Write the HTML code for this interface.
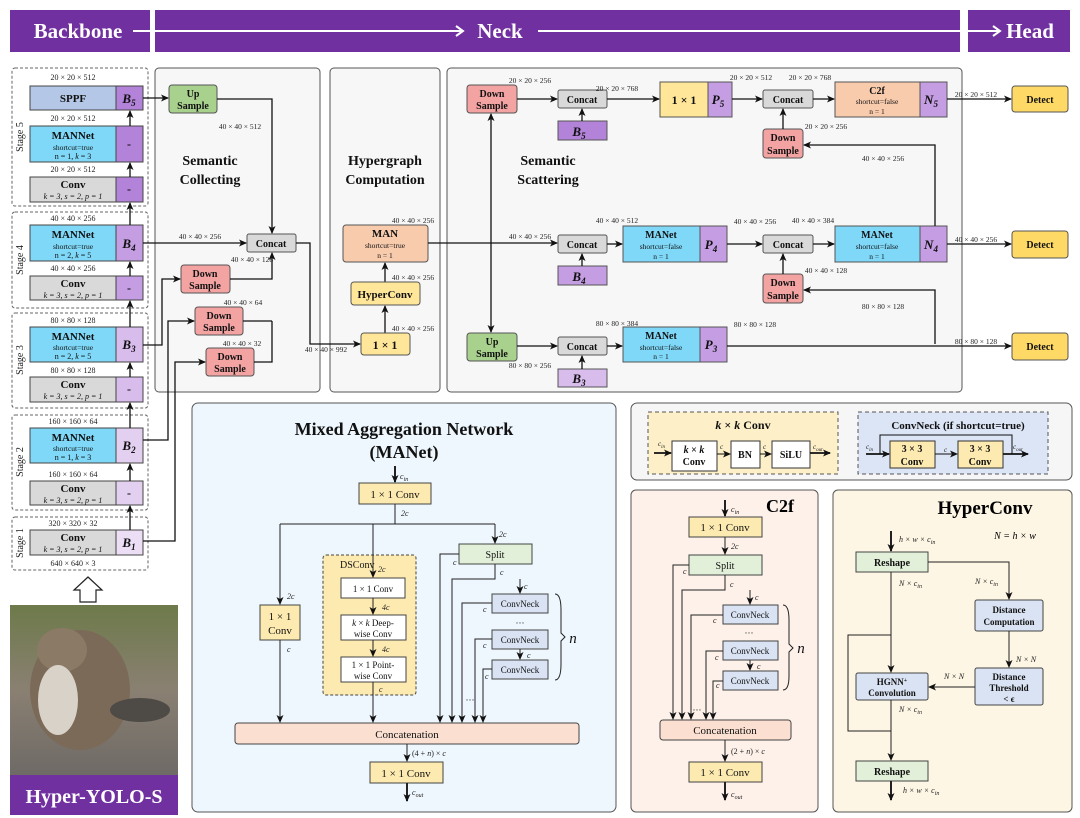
<!DOCTYPE html>
<html><head><meta charset="utf-8"><style>
html,body{margin:0;padding:0;background:#fff;}
svg{display:block;font-family:"Liberation Serif",serif;}
.b{font-weight:bold}
</style></head><body>
<svg width="1080" height="818" viewBox="0 0 1080 818" xmlns="http://www.w3.org/2000/svg">
<defs>
<marker id="a" markerWidth="8" markerHeight="8" refX="7" refY="4" orient="auto" markerUnits="userSpaceOnUse"><path d="M0,0.5 L8,4 L0,7.5 L2,4z" fill="#111"/></marker>
<marker id="w" markerWidth="10" markerHeight="12" refX="8" refY="6" orient="auto" markerUnits="userSpaceOnUse"><path d="M1,1 L8,6 L1,11" fill="none" stroke="#fff" stroke-width="2"/></marker>
</defs>
<!-- header -->
<rect x="10" y="10" width="140" height="42" fill="#7030a0"/>
<rect x="155" y="10" width="805" height="42" fill="#7030a0"/>
<rect x="968" y="10" width="102" height="42" fill="#7030a0"/>
<text x="78" y="38" fill="#fff" font-size="21" class="b" text-anchor="middle">Backbone</text>
<text x="500" y="38" fill="#fff" font-size="21" class="b" text-anchor="middle">Neck</text>
<text x="1030" y="38" fill="#fff" font-size="21" class="b" text-anchor="middle">Head</text>
<line x1="133" y1="31" x2="463" y2="31" stroke="#fff" stroke-width="2" marker-end="url(#w)"/>
<line x1="538" y1="31" x2="1000" y2="31" stroke="#fff" stroke-width="2" marker-end="url(#w)"/>

<!-- panels -->
<g stroke="#555" stroke-width="1">
<rect x="155" y="68" width="165" height="324" rx="4" fill="#f7f7f7"/>
<rect x="330" y="68" width="110" height="324" rx="4" fill="#f7f7f7"/>
<rect x="447" y="68" width="515" height="324" rx="4" fill="#f7f7f7"/>
<rect x="192" y="403" width="424" height="409" rx="6" fill="#eef7fd"/>
<rect x="631" y="403" width="441" height="77" rx="6" fill="#f6f6f6"/>
<rect x="631" y="490" width="187" height="322" rx="5" fill="#fdf1ea"/>
<rect x="833" y="490" width="239" height="322" rx="5" fill="#fdf6e4"/>
</g>
<g stroke="#666" stroke-dasharray="3,2" fill="none" stroke-width="1">
<rect x="12" y="68" width="136" height="138" rx="3"/>
<rect x="12" y="212" width="136" height="96" rx="3"/>
<rect x="12" y="313" width="136" height="95" rx="3"/>
<rect x="12" y="415" width="136" height="95" rx="3"/>
<rect x="12" y="517" width="136" height="53" rx="3"/>
</g>

<!-- Backbone blocks -->
<g stroke="#444" stroke-width="1">
<rect x="30" y="86" width="86" height="24" fill="#b4c7e7"/><rect x="116" y="86" width="27" height="24" fill="#b283d8"/>
<rect x="30" y="126" width="86" height="36" fill="#7fd8f8"/><rect x="116" y="126" width="27" height="36" fill="#b283d8"/>
<rect x="30" y="177" width="86" height="25" fill="#d9d9d9"/><rect x="116" y="177" width="27" height="25" fill="#b283d8"/>
<rect x="30" y="225" width="86" height="36" fill="#7fd8f8"/><rect x="116" y="225" width="27" height="36" fill="#c49de2"/>
<rect x="30" y="276" width="86" height="24" fill="#d9d9d9"/><rect x="116" y="276" width="27" height="24" fill="#c49de2"/>
<rect x="30" y="327" width="86" height="35" fill="#7fd8f8"/><rect x="116" y="327" width="27" height="35" fill="#d8bcec"/>
<rect x="30" y="377" width="86" height="25" fill="#d9d9d9"/><rect x="116" y="377" width="27" height="25" fill="#d8bcec"/>
<rect x="30" y="428" width="86" height="35" fill="#7fd8f8"/><rect x="116" y="428" width="27" height="35" fill="#e3d0f1"/>
<rect x="30" y="481" width="86" height="24" fill="#d9d9d9"/><rect x="116" y="481" width="27" height="24" fill="#e3d0f1"/>
<rect x="30" y="530" width="86" height="25" fill="#d9d9d9"/><rect x="116" y="530" width="27" height="25" fill="#ebdef5"/>
</g>
<g font-size="8" text-anchor="middle" fill="#222">
<text x="73" y="80">20 × 20 × 512</text><text x="73" y="121">20 × 20 × 512</text><text x="73" y="172">20 × 20 × 512</text>
<text x="73" y="221">40 × 40 × 256</text><text x="73" y="271">40 × 40 × 256</text>
<text x="73" y="323">80 × 80 × 128</text><text x="73" y="373">80 × 80 × 128</text>
<text x="73" y="424">160 × 160 × 64</text><text x="73" y="477">160 × 160 × 64</text>
<text x="73" y="526">320 × 320 × 32</text><text x="73" y="566">640 × 640 × 3</text>
</g>
<g text-anchor="middle" fill="#111">
<text x="73" y="102" font-size="11" class="b">SPPF</text>
<text x="73" y="139" font-size="11" class="b">MANNet</text><text x="73" y="150" font-size="7.5">shortcut=true</text><text x="73" y="159" font-size="8">n = 1, <tspan font-style="italic">k</tspan> = 3</text>
<text x="73" y="188" font-size="11" class="b">Conv</text><text x="73" y="199" font-size="8" font-style="italic">k = 3, s = 2, p = 1</text>
<text x="73" y="238" font-size="11" class="b">MANNet</text><text x="73" y="249" font-size="7.5">shortcut=true</text><text x="73" y="258" font-size="8">n = 2, <tspan font-style="italic">k</tspan> = 5</text>
<text x="73" y="287" font-size="11" class="b">Conv</text><text x="73" y="298" font-size="8" font-style="italic">k = 3, s = 2, p = 1</text>
<text x="73" y="340" font-size="11" class="b">MANNet</text><text x="73" y="350" font-size="7.5">shortcut=true</text><text x="73" y="359" font-size="8">n = 2, <tspan font-style="italic">k</tspan> = 5</text>
<text x="73" y="388" font-size="11" class="b">Conv</text><text x="73" y="399" font-size="8" font-style="italic">k = 3, s = 2, p = 1</text>
<text x="73" y="441" font-size="11" class="b">MANNet</text><text x="73" y="451" font-size="7.5">shortcut=true</text><text x="73" y="460" font-size="8">n = 1, <tspan font-style="italic">k</tspan> = 3</text>
<text x="73" y="492" font-size="11" class="b">Conv</text><text x="73" y="503" font-size="8" font-style="italic">k = 3, s = 2, p = 1</text>
<text x="73" y="541" font-size="11" class="b">Conv</text><text x="73" y="552" font-size="8" font-style="italic">k = 3, s = 2, p = 1</text>
<g font-size="13" class="b" font-style="italic">
<text x="129" y="103">B<tspan font-size="9" dy="3">5</tspan></text>
<text x="129" y="248">B<tspan font-size="9" dy="3">4</tspan></text>
<text x="129" y="349">B<tspan font-size="9" dy="3">3</tspan></text>
<text x="129" y="450">B<tspan font-size="9" dy="3">2</tspan></text>
<text x="129" y="547">B<tspan font-size="9" dy="3">1</tspan></text>
</g>
<g font-size="12" class="b"><text x="129" y="148">-</text><text x="129" y="193">-</text><text x="129" y="292">-</text><text x="129" y="393">-</text><text x="129" y="497">-</text></g>
</g>
<g font-size="10" fill="#222" text-anchor="middle">
<text transform="translate(23,137) rotate(-90)">Stage 5</text>
<text transform="translate(23,260) rotate(-90)">Stage 4</text>
<text transform="translate(23,360) rotate(-90)">Stage 3</text>
<text transform="translate(23,462) rotate(-90)">Stage 2</text>
<text transform="translate(23,543) rotate(-90)">Stage 1</text>
</g>
<g stroke="#111" stroke-width="1.3" marker-end="url(#a)">
<line x1="130" y1="177" x2="130" y2="163"/><line x1="130" y1="126" x2="130" y2="111"/>
<line x1="130" y1="225" x2="130" y2="203"/><line x1="130" y1="276" x2="130" y2="262"/>
<line x1="130" y1="327" x2="130" y2="301"/><line x1="130" y1="377" x2="130" y2="363"/>
<line x1="130" y1="428" x2="130" y2="403"/><line x1="130" y1="481" x2="130" y2="464"/>
<line x1="130" y1="530" x2="130" y2="506"/>
</g>
<!-- hollow arrow and cat -->
<path d="M80,602 L80,590 L74,590 L88,577 L102,590 L96,590 L96,602z" fill="#fff" stroke="#222" stroke-width="1.2"/>
<defs><linearGradient id="cat" x1="0" y1="0" x2="0" y2="1"><stop offset="0" stop-color="#6d7a4a"/><stop offset="0.5" stop-color="#8a8072"/><stop offset="1" stop-color="#6e6a66"/></linearGradient></defs>
<rect x="10" y="605" width="168" height="170" fill="url(#cat)"/>
<ellipse cx="80" cy="690" rx="50" ry="60" fill="#7b6a58"/>
<ellipse cx="62" cy="650" rx="25" ry="22" fill="#8b7a66"/>
<ellipse cx="58" cy="700" rx="20" ry="35" fill="#d8d2c8"/>
<ellipse cx="140" cy="710" rx="30" ry="12" fill="#4e4a46"/>
<rect x="10" y="775" width="168" height="40" fill="#7030a0"/>
<text x="94" y="803" fill="#fff" font-size="20" class="b" text-anchor="middle">Hyper-YOLO-S</text>

<!-- Semantic collecting -->
<g stroke="#555" stroke-width="1">
<rect x="169" y="85" width="48" height="28" rx="3" fill="#a9d18e"/>
<rect x="247" y="234" width="49" height="18" rx="2" fill="#d9d9d9"/>
<rect x="181" y="265" width="49" height="28" rx="3" fill="#f4a3a3"/>
<rect x="195" y="307" width="48" height="28" rx="3" fill="#f4a3a3"/>
<rect x="206" y="348" width="48" height="28" rx="3" fill="#f4a3a3"/>
</g>
<g text-anchor="middle" class="b" font-size="10" fill="#111">
<text x="193" y="97">Up</text><text x="193" y="109">Sample</text>
<text x="271" y="247">Concat</text>
<text x="205" y="277">Down</text><text x="205" y="289">Sample</text>
<text x="219" y="319">Down</text><text x="219" y="331">Sample</text>
<text x="230" y="360">Down</text><text x="230" y="372">Sample</text>
<text x="210" y="165" font-size="14">Semantic</text><text x="210" y="184" font-size="14">Collecting</text>
<text x="385" y="165" font-size="14">Hypergraph</text><text x="385" y="184" font-size="14">Computation</text>
<text x="548" y="165" font-size="14">Semantic</text><text x="548" y="184" font-size="14">Scattering</text>
</g>
<g font-size="7.5" fill="#222" text-anchor="middle">
<text x="240" y="129">40 × 40 × 512</text><text x="200" y="239">40 × 40 × 256</text>
<text x="252" y="262">40 × 40 × 128</text><text x="243" y="305">40 × 40 × 64</text><text x="242" y="346">40 × 40 × 32</text>
<text x="326" y="352">40 × 40 × 992</text>
<text x="413" y="223">40 × 40 × 256</text><text x="413" y="280">40 × 40 × 256</text><text x="413" y="331">40 × 40 × 256</text>
</g>
<g stroke="#111" stroke-width="1.3" fill="none" marker-end="url(#a)">
<polyline points="143,98 168,98"/>
<polyline points="217,99 272,99 272,233"/>
<polyline points="143,243 246,243"/>
<polyline points="143,345 162,345 162,279 180,279"/>
<polyline points="143,440 168,440 168,321 194,321"/>
<polyline points="143,541 175,541 175,362 205,362"/>
<polyline points="230,279 272,279 272,253"/>
<polyline points="243,321 272,321" marker-end="none"/>
<polyline points="254,362 272,362 272,321" marker-end="none"/>
<polyline points="296,243 310,243 310,344 360,344"/>
<line x1="385" y1="333" x2="385" y2="306"/>
<line x1="385" y1="282" x2="385" y2="263"/>
</g>
<!-- Hypergraph -->
<g stroke="#555" stroke-width="1">
<rect x="343" y="225" width="85" height="37" rx="3" fill="#f8cbad"/>
<rect x="351" y="282" width="69" height="23" rx="3" fill="#ffe699"/>
<rect x="361" y="333" width="49" height="22" rx="3" fill="#ffe699"/>
</g>
<g text-anchor="middle" fill="#111">
<text x="385" y="237" font-size="11" class="b">MAN</text><text x="385" y="248" font-size="7.5">shortcut=true</text><text x="385" y="258" font-size="7.5">n = 1</text>
<text x="385" y="298" font-size="11" class="b">HyperConv</text>
<text x="385" y="349" font-size="12" class="b">1 × 1</text>
</g>

<!-- Scattering -->
<g stroke="#555" stroke-width="1">
<rect x="467" y="85" width="50" height="28" rx="3" fill="#f4a3a3"/>
<rect x="558" y="90" width="49" height="18" rx="2" fill="#d9d9d9"/>
<rect x="558" y="121" width="49" height="19" fill="#b283d8"/>
<rect x="660" y="82" width="48" height="35" fill="#ffe699"/><rect x="708" y="82" width="24" height="35" fill="#c49de2"/>
<rect x="763" y="90" width="50" height="18" rx="2" fill="#d9d9d9"/>
<rect x="835" y="82" width="85" height="35" fill="#f8cbad"/><rect x="920" y="82" width="27" height="35" fill="#c49de2"/>
<rect x="763" y="129" width="40" height="29" rx="3" fill="#f4a3a3"/>
<rect x="1012" y="86" width="56" height="26" rx="3" fill="#ffd966"/>
<rect x="558" y="235" width="49" height="18" rx="2" fill="#d9d9d9"/>
<rect x="558" y="266" width="49" height="19" fill="#c49de2"/>
<rect x="623" y="226" width="77" height="36" fill="#7fd8f8"/><rect x="700" y="226" width="27" height="36" fill="#c49de2"/>
<rect x="763" y="235" width="50" height="18" rx="2" fill="#d9d9d9"/>
<rect x="835" y="226" width="85" height="36" fill="#7fd8f8"/><rect x="920" y="226" width="27" height="36" fill="#c49de2"/>
<rect x="763" y="274" width="40" height="29" rx="3" fill="#f4a3a3"/>
<rect x="1012" y="231" width="56" height="27" rx="3" fill="#ffd966"/>
<rect x="467" y="333" width="50" height="28" rx="3" fill="#a9d18e"/>
<rect x="558" y="337" width="49" height="18" rx="2" fill="#d9d9d9"/>
<rect x="558" y="369" width="49" height="18" fill="#d8bcec"/>
<rect x="623" y="327" width="77" height="35" fill="#7fd8f8"/><rect x="700" y="327" width="27" height="35" fill="#c49de2"/>
<rect x="1012" y="333" width="56" height="27" rx="3" fill="#ffd966"/>
</g>
<g text-anchor="middle" fill="#111" class="b" font-size="10">
<text x="492" y="97">Down</text><text x="492" y="109">Sample</text>
<text x="582" y="103">Concat</text><text x="788" y="103">Concat</text>
<text x="684" y="104" font-size="12">1 × 1</text>
<text x="877" y="94">C2f</text>
<text x="783" y="141">Down</text><text x="783" y="154">Sample</text>
<text x="1040" y="103">Detect</text>
<text x="582" y="248">Concat</text><text x="788" y="248">Concat</text>
<text x="661" y="238">MANet</text><text x="877" y="238">MANet</text>
<text x="783" y="286">Down</text><text x="783" y="299">Sample</text>
<text x="1040" y="248">Detect</text>
<text x="492" y="345">Up</text><text x="492" y="357">Sample</text>
<text x="582" y="350">Concat</text>
<text x="661" y="339">MANet</text>
<text x="1040" y="350">Detect</text>
</g>
<g text-anchor="middle" fill="#111" font-size="7.5">
<text x="877" y="104">shortcut=false</text><text x="877" y="114">n = 1</text>
<text x="661" y="249">shortcut=false</text><text x="661" y="259">n = 1</text>
<text x="877" y="249">shortcut=false</text><text x="877" y="259">n = 1</text>
<text x="661" y="350">shortcut=false</text><text x="661" y="359">n = 1</text>
</g>
<g text-anchor="middle" fill="#111" class="b" font-style="italic" font-size="13">
<text x="579" y="136">B<tspan font-size="9" dy="3">5</tspan></text>
<text x="718" y="104">P<tspan font-size="9" dy="3">5</tspan></text>
<text x="931" y="104">N<tspan font-size="9" dy="3">5</tspan></text>
<text x="579" y="281">B<tspan font-size="9" dy="3">4</tspan></text>
<text x="711" y="249">P<tspan font-size="9" dy="3">4</tspan></text>
<text x="931" y="249">N<tspan font-size="9" dy="3">4</tspan></text>
<text x="579" y="383">B<tspan font-size="9" dy="3">3</tspan></text>
<text x="711" y="349">P<tspan font-size="9" dy="3">3</tspan></text>
</g>
<g font-size="7.5" fill="#222" text-anchor="middle">
<text x="530" y="83">20 × 20 × 256</text><text x="617" y="91">20 × 20 × 768</text>
<text x="751" y="80">20 × 20 × 512</text><text x="810" y="80">20 × 20 × 768</text>
<text x="826" y="129">20 × 20 × 256</text><text x="976" y="97">20 × 20 × 512</text>
<text x="883" y="161">40 × 40 × 256</text>
<text x="530" y="239">40 × 40 × 256</text><text x="617" y="223">40 × 40 × 512</text>
<text x="755" y="224">40 × 40 × 256</text><text x="813" y="223">40 × 40 × 384</text>
<text x="826" y="273">40 × 40 × 128</text><text x="976" y="242">40 × 40 × 256</text>
<text x="883" y="309">80 × 80 × 128</text>
<text x="617" y="326">80 × 80 × 384</text><text x="755" y="327">80 × 80 × 128</text>
<text x="976" y="344">80 × 80 × 128</text><text x="530" y="368">80 × 80 × 256</text>
</g>
<g stroke="#111" stroke-width="1.3" fill="none" marker-end="url(#a)">
<polyline points="428,243 557,243"/>
<line x1="491" y1="243" x2="491" y2="114"/>
<line x1="491" y1="243" x2="491" y2="332"/>
<line x1="517" y1="99" x2="557" y2="99"/>
<line x1="582" y1="121" x2="582" y2="109"/>
<line x1="607" y1="99" x2="659" y2="99"/>
<line x1="732" y1="99" x2="762" y2="99"/>
<line x1="813" y1="99" x2="834" y2="99"/>
<line x1="947" y1="99" x2="1011" y2="99"/>
<line x1="783" y1="129" x2="783" y2="109"/>
<polyline points="935,226 935,145 804,145"/>
<line x1="582" y1="266" x2="582" y2="254"/>
<line x1="607" y1="244" x2="622" y2="244"/>
<line x1="727" y1="244" x2="762" y2="244"/>
<line x1="813" y1="244" x2="834" y2="244"/>
<line x1="947" y1="244" x2="1011" y2="244"/>
<line x1="783" y1="274" x2="783" y2="254"/>
<polyline points="935,344 935,290 804,290"/>
<line x1="517" y1="346" x2="557" y2="346"/>
<line x1="582" y1="369" x2="582" y2="356"/>
<line x1="607" y1="346" x2="622" y2="346"/>
<line x1="727" y1="346" x2="1011" y2="346"/>
</g>

<!-- MANet panel -->
<g text-anchor="middle" class="b" font-size="18" fill="#111"><text x="404" y="435">Mixed Aggregation Network</text><text x="404" y="458">(MANet)</text></g>
<g stroke="#444" stroke-width="1">
<rect x="359" y="483" width="72" height="21" fill="#fdeab0"/>
<rect x="260" y="605" width="40" height="35" fill="#fdeab0"/>
<rect x="323" y="555" width="93" height="140" rx="3" fill="#fdeab0" stroke-dasharray="3,2"/>
<rect x="341" y="578" width="64" height="20" fill="#fff"/>
<rect x="341" y="615" width="65" height="25" fill="#fff"/>
<rect x="341" y="657" width="65" height="25" fill="#fff"/>
<rect x="459" y="544" width="73" height="20" fill="#e2efd9"/>
<rect x="492" y="594" width="56" height="19" fill="#dae3f3"/>
<rect x="492" y="630" width="56" height="19" fill="#dae3f3"/>
<rect x="492" y="660" width="56" height="19" fill="#dae3f3"/>
<rect x="235" y="723" width="344" height="21" rx="3" fill="#fbe0d2"/>
<rect x="370" y="762" width="73" height="21" fill="#fdeab0"/>
</g>
<g text-anchor="middle" fill="#111" font-size="10">
<text x="395" y="498" font-size="11">1 × 1  Conv</text>
<text x="280" y="620" font-size="11">1 × 1</text><text x="280" y="634" font-size="11">Conv</text>
<text x="340" y="568" style="text-anchor:start">DSConv</text>
<text x="373" y="592" font-size="9">1 × 1  Conv</text>
<text x="373" y="626" font-size="9"><tspan font-style="italic">k</tspan> × <tspan font-style="italic">k</tspan> Deep-</text><text x="373" y="637" font-size="9">wise Conv</text>
<text x="373" y="668" font-size="9">1 × 1  Point-</text><text x="373" y="679" font-size="9">wise Conv</text>
<text x="495" y="558" font-size="10">Split</text>
<text x="520" y="607" font-size="9">ConvNeck</text><text x="520" y="643" font-size="9">ConvNeck</text><text x="520" y="673" font-size="9">ConvNeck</text>
<text x="407" y="738" font-size="11">Concatenation</text>
<text x="406" y="777" font-size="11">1 × 1  Conv</text>
<text x="520" y="626" font-size="9">···</text>
<text x="470" y="703" font-size="9">···</text>
<text x="573" y="643" font-size="15" font-style="italic">n</text>
</g>
<g font-size="8" fill="#222" font-style="italic">
<text x="400" y="479">c<tspan font-size="6" dy="2">in</tspan></text>
<text x="401" y="516">2c</text><text x="499" y="537">2c</text>
<text x="287" y="599">2c</text><text x="378" y="572">2c</text>
<text x="382" y="610">4c</text><text x="382" y="652">4c</text><text x="379" y="692">c</text>
<text x="287" y="652">c</text>
<text x="453" y="565">c</text><text x="500" y="575">c</text><text x="524" y="589">c</text>
<text x="483" y="612">c</text><text x="483" y="648">c</text><text x="527" y="658">c</text><text x="485" y="679">c</text>
<text x="412" y="756" font-style="normal">(4 + <tspan font-style="italic">n</tspan>) × <tspan font-style="italic">c</tspan></text>
<text x="412" y="795">c<tspan font-size="6" dy="2">out</tspan></text>
</g>
<path d="M555,594 Q561,594 561,610 L561,633 L565,637 L561,641 L561,664 Q561,680 555,680" fill="none" stroke="#222"/>
<g stroke="#222" stroke-width="1" fill="none" marker-end="url(#a)">
<line x1="395" y1="466" x2="395" y2="482" stroke-width="2"/>
<polyline points="395,504 395,524" marker-end="none"/>
<polyline points="280,524 495,524" marker-end="none"/>
<line x1="280" y1="524" x2="280" y2="604"/>
<line x1="373" y1="524" x2="373" y2="577"/>
<line x1="495" y1="524" x2="495" y2="543"/>
<line x1="373" y1="598" x2="373" y2="614"/>
<line x1="373" y1="640" x2="373" y2="656"/>
<line x1="373" y1="682" x2="373" y2="722"/>
<line x1="280" y1="640" x2="280" y2="722"/>
<polyline points="459,554 440,554 440,722"/>
<polyline points="495,564 495,579 452,579 452,722"/>
<line x1="520" y1="579" x2="520" y2="593"/>
<polyline points="492,603 462,603 462,722"/>
<polyline points="492,639 475,639 475,722"/>
<line x1="520" y1="649" x2="520" y2="659"/>
<polyline points="492,669 483,669 483,722"/>
<line x1="407" y1="744" x2="407" y2="761"/>
<line x1="407" y1="783" x2="407" y2="801" stroke-width="2"/>
</g>

<!-- top right k x k conv / ConvNeck -->
<rect x="648" y="412" width="190" height="62" fill="#fdf0c8" stroke="#555" stroke-dasharray="4,3"/>
<rect x="858" y="412" width="190" height="62" fill="#dbe5f5" stroke="#555" stroke-dasharray="4,3"/>
<g stroke="#333" stroke-width="1">
<rect x="672" y="441" width="45" height="30" fill="#fff"/>
<rect x="731" y="441" width="29" height="27" fill="#fff"/>
<rect x="772" y="441" width="38" height="27" fill="#fff"/>
<rect x="890" y="441" width="45" height="27" fill="#fdeab0"/>
<rect x="958" y="441" width="45" height="27" fill="#fdeab0"/>
</g>
<g text-anchor="middle" fill="#111" class="b">
<text x="743" y="429" font-size="12"><tspan font-style="italic">k</tspan> × <tspan font-style="italic">k</tspan>  Conv</text>
<text x="694" y="453" font-size="10"><tspan font-style="italic">k</tspan> × <tspan font-style="italic">k</tspan></text><text x="694" y="465" font-size="10">Conv</text>
<text x="745" y="458" font-size="10">BN</text><text x="791" y="458" font-size="10">SiLU</text>
<text x="958" y="429" font-size="11">ConvNeck (if shortcut=true)</text>
<text x="912" y="452" font-size="10">3 × 3</text><text x="912" y="465" font-size="10">Conv</text>
<text x="980" y="452" font-size="10">3 × 3</text><text x="980" y="465" font-size="10">Conv</text>
</g>
<g font-size="7" font-style="italic" fill="#222">
<text x="658" y="446">c<tspan font-size="5" dy="2">in</tspan></text><text x="720" y="449">c</text><text x="763" y="449">c</text><text x="813" y="449">c<tspan font-size="5" dy="2">out</tspan></text>
<text x="866" y="449">c<tspan font-size="5" dy="2">in</tspan></text><text x="944" y="452">c</text><text x="1013" y="449">c<tspan font-size="5" dy="2">out</tspan></text>
</g>
<g stroke="#111" stroke-width="1" fill="none" marker-end="url(#a)">
<line x1="654" y1="453" x2="671" y2="453" stroke-width="1.8"/>
<line x1="717" y1="454" x2="730" y2="454"/>
<line x1="760" y1="454" x2="771" y2="454"/>
<line x1="810" y1="453" x2="830" y2="453" stroke-width="1.8"/>
<line x1="866" y1="454" x2="889" y2="454" stroke-width="1.8"/>
<line x1="935" y1="454" x2="957" y2="454"/>
<line x1="1003" y1="454" x2="1028" y2="454" stroke-width="1.8"/>
<polyline points="880,454 880,435 1012,435 1012,454" marker-end="none"/>
</g>

<!-- C2f -->
<text x="780" y="512" font-size="18" class="b" text-anchor="middle">C2f</text>
<g stroke="#444" stroke-width="1">
<rect x="689" y="517" width="73" height="20" fill="#fdeab0"/>
<rect x="689" y="555" width="73" height="20" fill="#e2efd9"/>
<rect x="723" y="605" width="55" height="19" fill="#dae3f3"/>
<rect x="723" y="641" width="55" height="19" fill="#dae3f3"/>
<rect x="723" y="671" width="55" height="19" fill="#dae3f3"/>
<rect x="660" y="720" width="131" height="20" rx="3" fill="#fbe0d2"/>
<rect x="689" y="762" width="73" height="20" fill="#fdeab0"/>
</g>
<g text-anchor="middle" fill="#111">
<text x="725" y="531" font-size="11">1 × 1  Conv</text>
<text x="725" y="569" font-size="10">Split</text>
<text x="750" y="618" font-size="9">ConvNeck</text><text x="750" y="654" font-size="9">ConvNeck</text><text x="750" y="684" font-size="9">ConvNeck</text>
<text x="749" y="636" font-size="9">···</text><text x="697" y="713" font-size="9">···</text>
<text x="725" y="734" font-size="11">Concatenation</text>
<text x="725" y="776" font-size="11">1 × 1  Conv</text>
<text x="801" y="653" font-size="15" font-style="italic">n</text>
</g>
<g font-size="8" font-style="italic" fill="#222">
<text x="731" y="512">c<tspan font-size="6" dy="2">in</tspan></text><text x="731" y="549">2c</text>
<text x="683" y="574">c</text><text x="730" y="587">c</text><text x="755" y="600">c</text>
<text x="713" y="623">c</text><text x="715" y="660">c</text><text x="757" y="669">c</text><text x="716" y="688">c</text>
<text x="731" y="754" font-style="normal">(2 + <tspan font-style="italic">n</tspan>) × <tspan font-style="italic">c</tspan></text>
<text x="731" y="797">c<tspan font-size="6" dy="2">out</tspan></text>
</g>
<path d="M783,605 Q789,605 789,620 L789,644 L793,648 L789,652 L789,676 Q789,690 783,690" fill="none" stroke="#222"/>
<g stroke="#222" stroke-width="1" fill="none" marker-end="url(#a)">
<line x1="725" y1="500" x2="725" y2="516" stroke-width="2"/>
<line x1="725" y1="537" x2="725" y2="554"/>
<polyline points="689,565 673,565 673,719"/>
<polyline points="725,575 725,590 682,590 682,719"/>
<line x1="750" y1="590" x2="750" y2="604"/>
<polyline points="723,615 691,615 691,719"/>
<polyline points="723,651 706,651 706,719"/>
<line x1="750" y1="660" x2="750" y2="670"/>
<polyline points="723,681 713,681 713,719"/>
<line x1="725" y1="740" x2="725" y2="761"/>
<line x1="725" y1="782" x2="725" y2="800" stroke-width="2"/>
</g>

<!-- HyperConv -->
<text x="985" y="514" font-size="19" class="b" text-anchor="middle">HyperConv</text>
<text x="1015" y="539" font-size="10" font-style="italic" text-anchor="middle">N = h × w</text>
<g stroke="#444" stroke-width="1">
<rect x="856" y="552" width="72" height="20" fill="#e2efd9"/>
<rect x="975" y="600" width="68" height="31" rx="2" fill="#dae3f3"/>
<rect x="975" y="668" width="68" height="37" rx="2" fill="#dae3f3"/>
<rect x="856" y="673" width="72" height="27" rx="2" fill="#dae3f3"/>
<rect x="856" y="761" width="72" height="20" fill="#e2efd9"/>
</g>
<g text-anchor="middle" fill="#111" class="b" font-size="9">
<text x="892" y="566" font-size="10">Reshape</text>
<text x="1009" y="613">Distance</text><text x="1009" y="625">Computation</text>
<text x="1009" y="680">Distance</text><text x="1009" y="691">Threshold</text><text x="1009" y="702">&lt; ϵ</text>
<text x="892" y="685">HGNN<tspan font-size="6" dy="-3">+</tspan></text><text x="892" y="696">Convolution</text>
<text x="892" y="775" font-size="10">Reshape</text>
</g>
<g font-size="8" font-style="italic" fill="#222">
<text x="899" y="542">h × w × c<tspan font-size="6" dy="2">in</tspan></text>
<text x="899" y="586">N × c<tspan font-size="6" dy="2">in</tspan></text>
<text x="975" y="584">N × c<tspan font-size="6" dy="2">in</tspan></text>
<text x="1016" y="662">N × N</text>
<text x="944" y="679">N × N</text>
<text x="899" y="712">N × c<tspan font-size="6" dy="2">in</tspan></text>
<text x="903" y="793">h × w × c<tspan font-size="6" dy="2">in</tspan></text>
</g>
<g stroke="#222" stroke-width="1" fill="none" marker-end="url(#a)">
<line x1="891" y1="531" x2="891" y2="551" stroke-width="2"/>
<polyline points="928,562 1009,562 1009,599"/>
<line x1="1009" y1="631" x2="1009" y2="667"/>
<line x1="975" y1="687" x2="929" y2="687"/>
<line x1="891" y1="572" x2="891" y2="672"/>
<polyline points="891,635 848,635 848,731 891,731" marker-end="none"/>
<line x1="891" y1="700" x2="891" y2="760"/>
<line x1="891" y1="781" x2="891" y2="800" stroke-width="2"/>
</g>
</svg>
</body></html>
